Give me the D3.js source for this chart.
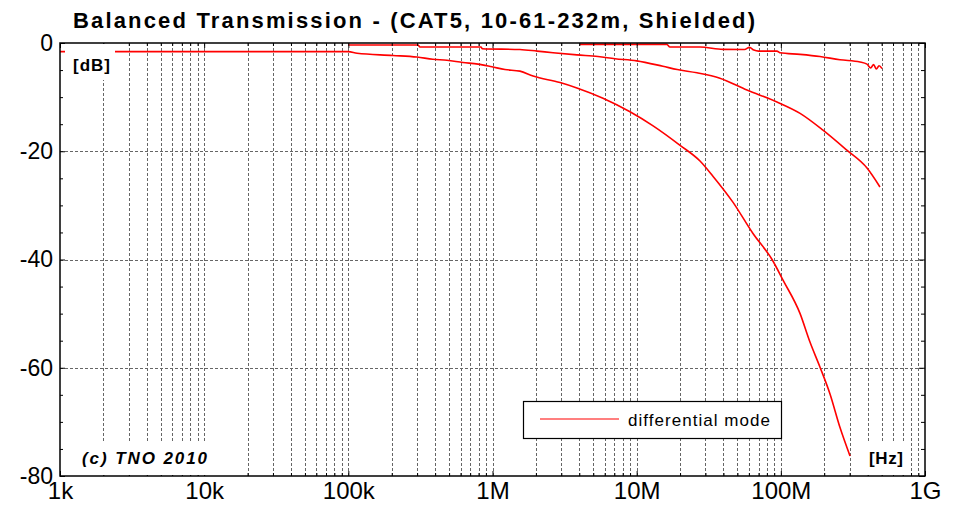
<!DOCTYPE html>
<html>
<head>
<meta charset="utf-8">
<script src="https://cdn.jsdelivr.net/npm/d3@7"></script>
<style>
  html, body { margin: 0; padding: 0; background: #fff; }
  svg { display: block; font-family: Arial, 'Liberation Sans', sans-serif; }
</style>
</head>
<body>
<div id="chartContainer"></div>
<script>
// Balanced transmission of shielded CAT5 cable, three lengths (10m, 61m, 232m).

const freqMajor = [1e3, 1e4, 1e5, 1e6, 1e7, 1e8, 1e9];
const freqLabels = ['1k', '10k', '100k', '1M', '10M', '100M', '1G'];
const dbMajor = [0, -20, -40, -60, -80];
const dbMinor = [-5, -10, -15, -25, -30, -35, -45, -50, -55, -65, -70, -75];

// 10 m cable
const freq10m = [4.04e6, 16.2e6, 17e6, 27.5e6, 39.7e6, 56e6, 60.6e6, 65e6, 70e6, 94e6, 98.6e6, 136e6, 187e6, 257e6, 354e6, 396e6, 420e6, 440e6, 460e6, 480e6, 503e6];
const db10m = [-0.25, -0.25, -0.74, -0.74, -1.17, -1.2, -0.8, -1.3, -1.5, -1.5, -1.8, -2.1, -2.5, -3.1, -3.5, -3.9, -4.6, -4.0, -4.8, -4.2, -4.7];

// 61 m cable
const freq61m = [1e5, 304e3, 314e3, 832e3, 850e3, 1.55e6, 2.04e6, 2.63e6, 3.85e6, 5.39e6, 7.08e6, 10e6, 15.2e6, 19.1e6, 26.2e6, 37.8e6, 58.2e6, 94e6, 136e6, 196e6, 287e6, 396e6, 487e6];
const db61m = [-0.37, -0.37, -0.74, -0.74, -1.05, -1.2, -1.5, -1.8, -2.2, -2.5, -2.9, -3.3, -4.3, -4.9, -5.5, -6.5, -8.7, -10.9, -13, -16.1, -19.8, -23.1, -26.6];

// 232 m cable
const freq232m = [1e3, 1e5, 115e3, 204e3, 299e3, 386e3, 483e3, 624e3, 793e3, 991e3, 1.22e6, 1.55e6, 1.91e6, 2.94e6, 3.85e6, 5.84e6, 8.99e6, 13e6, 20e6, 27.5e6, 33.8e6, 46.5e6, 64.1e6, 86.9e6, 104e6, 136e6, 159e6, 187e6, 219e6, 257e6, 302e6];
const db232m = [-1.6, -1.6, -1.9, -2.3, -2.6, -3.0, -3.2, -3.6, -3.9, -4.4, -4.9, -5.2, -6.1, -7.3, -8.3, -10.2, -12.7, -15.3, -18.9, -21.8, -24.6, -29.4, -35.2, -40, -43.9, -50, -55.2, -59.9, -64.8, -71, -76.3];

const lineColor = '#ff0000';

function renderChart() {
  const d3 = window.d3;
  const container = document.getElementById('chartContainer');

  const width = 953;
  const height = 511;
  const plot = { left: 60, right: 925, top: 43, bottom: 476 };

  const svg = d3.select(container)
    .append('svg')
    .attr('width', width)
    .attr('height', height);

  const x = d3.scaleLog()
    .domain([1e3, 1e9])
    .range([plot.left, plot.right]);

  const y = d3.scaleLinear()
    .domain([-80, 0])
    .range([plot.bottom, plot.top]);

  // minor decade positions 2..9 for the grid
  const freqMinor = [];
  for (let k = 3; k < 9; k++) {
    for (let m = 2; m <= 9; m++) freqMinor.push(m * Math.pow(10, k));
  }
  const gridFreqs = freqMinor.concat(freqMajor.slice(1, -1));

  const grid = svg.append('g');
  grid.selectAll('.vgrid')
    .data(gridFreqs)
    .enter().append('line')
    .attr('class', 'vgrid')
    .attr('x1', d => Math.round(x(d)) + 0.5)
    .attr('x2', d => Math.round(x(d)) + 0.5)
    .attr('y1', plot.top)
    .attr('y2', plot.bottom)
    .attr('stroke', '#666')
    .attr('stroke-width', 1)
    .attr('stroke-dasharray', '3,2');

  grid.selectAll('.hgrid')
    .data(dbMajor.slice(1, -1))
    .enter().append('line')
    .attr('class', 'hgrid')
    .attr('x1', plot.left)
    .attr('x2', plot.right)
    .attr('y1', d => Math.round(y(d)) + 0.5)
    .attr('y2', d => Math.round(y(d)) + 0.5)
    .attr('stroke', '#666')
    .attr('stroke-width', 1)
    .attr('stroke-dasharray', '3,2');

  // curves
  const line = d3.line()
    .x(d => x(d[0]))
    .y(d => y(d[1]))
    .curve(d3.curveMonotoneX);

  const series = [
    d3.zip(freq10m, db10m),
    d3.zip(freq61m, db61m),
    d3.zip(freq232m, db232m)
  ];

  svg.append('g')
    .selectAll('.curve')
    .data(series)
    .enter().append('path')
    .attr('class', 'curve')
    .attr('d', line)
    .attr('fill', 'none')
    .attr('stroke', lineColor)
    .attr('stroke-width', 1.6)
    .attr('stroke-linejoin', 'round');

  // ticks (inward) on all four sides
  const axes = svg.append('g');

  axes.append('g')
    .attr('transform', `translate(0,${plot.bottom})`)
    .call(d3.axisBottom(x).tickValues(freqMinor).tickSize(-3).tickFormat(''));
  axes.append('g')
    .attr('transform', `translate(0,${plot.bottom})`)
    .attr('class', 'x-major')
    .call(d3.axisBottom(x).tickValues(freqMajor).tickSize(-5).tickPadding(6)
      .tickFormat((d, i) => freqLabels[i]));
  axes.append('g')
    .attr('transform', `translate(0,${plot.top})`)
    .call(d3.axisTop(x).tickValues(freqMinor).tickSize(-3).tickFormat(''));
  axes.append('g')
    .attr('transform', `translate(0,${plot.top})`)
    .call(d3.axisTop(x).tickValues(freqMajor).tickSize(-5).tickFormat(''));

  axes.append('g')
    .attr('transform', `translate(${plot.left},0)`)
    .call(d3.axisLeft(y).tickValues(dbMinor).tickSize(-3).tickFormat(''));
  axes.append('g')
    .attr('transform', `translate(${plot.left},0)`)
    .attr('class', 'y-major')
    .call(d3.axisLeft(y).tickValues(dbMajor).tickSize(-5).tickPadding(7)
      .tickFormat(d => d));
  axes.append('g')
    .attr('transform', `translate(${plot.right},0)`)
    .call(d3.axisRight(y).tickValues(dbMinor).tickSize(-4).tickFormat(''));
  axes.append('g')
    .attr('transform', `translate(${plot.right},0)`)
    .call(d3.axisRight(y).tickValues(dbMajor).tickSize(-6).tickFormat(''));

  axes.selectAll('.domain').remove();
  axes.selectAll('.tick line').attr('stroke', '#000');
  axes.selectAll('.x-major text, .y-major text')
    .attr('fill', '#000')
    .style('font-family', 'Arial, "Liberation Sans", sans-serif');
  axes.selectAll('.x-major text').style('font-size', '24px');
  axes.selectAll('.y-major text').style('font-size', '23px').attr('dy', '0.32em');

  // white label backgrounds, as in the original
  const boxes = [
    { x: 65, y: 44, w: 50, h: 36 },
    { x: 65, y: 442, w: 150, h: 33 },
    { x: 858, y: 443, w: 50, h: 32 }
  ];
  svg.append('g')
    .selectAll('rect')
    .data(boxes)
    .enter().append('rect')
    .attr('x', d => d.x)
    .attr('y', d => d.y)
    .attr('width', d => d.w)
    .attr('height', d => d.h)
    .attr('fill', '#fff');

  // plot border
  svg.append('rect')
    .attr('x', plot.left)
    .attr('y', plot.top)
    .attr('width', plot.right - plot.left)
    .attr('height', plot.bottom - plot.top)
    .attr('fill', 'none')
    .attr('stroke', '#000')
    .attr('stroke-width', 1.5);

  // legend
  const legend = svg.append('g');
  legend.append('rect')
    .attr('x', 523.5)
    .attr('y', 401.5)
    .attr('width', 258)
    .attr('height', 37)
    .attr('fill', '#fff')
    .attr('stroke', '#000')
    .attr('stroke-width', 1.2);
  legend.append('line')
    .attr('x1', 540)
    .attr('x2', 619)
    .attr('y1', 419)
    .attr('y2', 419)
    .attr('stroke', lineColor)
    .attr('stroke-width', 1.2);
  legend.append('text')
    .attr('x', 628)
    .attr('y', 426)
    .attr('textLength', 142)
    .style('font-size', '17px')
    .text('differential mode');

  // texts
  svg.append('text')
    .attr('x', 73)
    .attr('y', 28)
    .attr('textLength', 682)
    .style('font-size', '22px')
    .style('font-weight', 'bold')
    .text('Balanced Transmission - (CAT5, 10-61-232m, Shielded)');

  svg.append('text')
    .attr('x', 73)
    .attr('y', 71)
    .attr('textLength', 37)
    .style('font-size', '17px')
    .style('font-weight', 'bold')
    .text('[dB]');

  svg.append('text')
    .attr('x', 869)
    .attr('y', 464)
    .attr('textLength', 34)
    .style('font-size', '17px')
    .style('font-weight', 'bold')
    .text('[Hz]');

  svg.append('text')
    .attr('x', 82)
    .attr('y', 464)
    .attr('textLength', 125)
    .style('font-size', '17px')
    .style('font-weight', 'bold')
    .style('font-style', 'italic')
    .text('(c) TNO 2010');
}

renderChart();
</script>
</body>
</html>
